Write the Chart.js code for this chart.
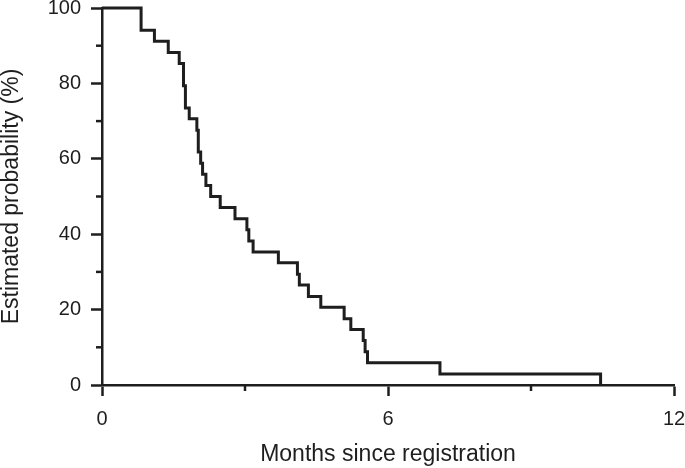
<!DOCTYPE html>
<html>
<head>
<meta charset="utf-8">
<script src="https://cdn.jsdelivr.net/npm/chart.js@4/dist/chart.umd.min.js"></script>
<style>
  html, body { margin: 0; padding: 0; background: #fff; }
  #wrap { width: 685px; height: 468px; position: relative; }
</style>
</head>
<body>
<div id="wrap"><canvas id="c" width="685" height="468"></canvas></div>
<script>
// Kaplan-Meier estimate: event times (months) and estimated probability (%)
const months = [0, 0.82, 1.10, 1.39, 1.62, 1.71, 1.75, 1.83, 1.99, 2.02, 2.07, 2.11, 2.18, 2.28, 2.48, 2.79, 3.04, 3.08, 3.17, 3.70, 4.10, 4.14, 4.33, 4.59, 5.08, 5.22, 5.48, 5.52, 5.57, 7.09, 10.46];
const probability = [100, 94.1, 91.2, 88.2, 85.3, 79.4, 73.5, 70.6, 67.6, 61.8, 58.8, 55.9, 52.9, 50.0, 47.1, 44.1, 41.2, 38.2, 35.3, 32.4, 29.4, 26.5, 23.5, 20.6, 17.6, 14.7, 11.8, 8.8, 5.9, 2.9, 0];
const xMajorTicks = [0, 6, 12];
const xMinorTicks = [3, 9];
const yMajorTicks = [0, 20, 40, 60, 80, 100];
const yMinorTicks = [10, 30, 50, 70, 90];
const xTitle = 'Months since registration';
const yTitle = 'Estimated probability (%)';

const INK = '#1e1e1e';
const FONT = '"Liberation Sans", Arial, Helvetica, sans-serif';

const minorTicks = {
  id: 'minorTicks',
  afterDraw(chart) {
    const ctx = chart.ctx;
    const xs = chart.scales.x, ys = chart.scales.y;
    const area = chart.chartArea;
    ctx.save();
    ctx.strokeStyle = INK;
    ctx.lineWidth = 2.5;
    ctx.lineCap = 'butt';
    yMinorTicks.forEach(v => {
      const py = ys.getPixelForValue(v);
      ctx.beginPath();
      ctx.moveTo(area.left - 6, py);
      ctx.lineTo(area.left, py);
      ctx.stroke();
    });
    xMinorTicks.forEach(v => {
      const px = xs.getPixelForValue(v);
      ctx.beginPath();
      ctx.moveTo(px, area.bottom);
      ctx.lineTo(px, area.bottom + 6);
      ctx.stroke();
    });
    ctx.restore();
  }
};

const points = months.map((m, i) => ({ x: m, y: probability[i] }));

new Chart(document.getElementById('c'), {
  type: 'line',
  data: {
    datasets: [{
      data: points,
      stepped: 'before',
      borderColor: INK,
      borderWidth: 3,
      pointRadius: 0,
      fill: false,
      clip: false,
      borderJoinStyle: 'miter',
      borderCapStyle: 'butt'
    }]
  },
  options: {
    responsive: false,
    animation: false,
    devicePixelRatio: 1,
    layout: { padding: 0 },
    plugins: { legend: { display: false }, tooltip: { enabled: false } },
    scales: {
      x: {
        type: 'linear',
        min: 0, max: 12,
        afterBuildTicks(scale) { scale.ticks = xMajorTicks.map(v => ({ value: v })); },
        afterFit(scale) { scale.height = 83; scale.paddingLeft = 0; scale.paddingRight = 11; },
        grid: { display: true, drawOnChartArea: false, drawTicks: true, tickLength: 11, tickWidth: 2.5, tickColor: INK },
        border: { display: true, color: INK, width: 2.5 },
        ticks: { color: INK, padding: 11, maxRotation: 0, font: { family: FONT, size: 20 } },
        title: { display: true, text: xTitle, color: INK, font: { family: FONT, size: 23, lineHeight: 1 }, padding: { top: 0, bottom: 2 } }
      },
      y: {
        type: 'linear',
        min: 0, max: 100,
        afterBuildTicks(scale) { scale.ticks = yMajorTicks.map(v => ({ value: v })); },
        afterFit(scale) { scale.width = 102; scale.paddingTop = 8; scale.paddingBottom = 0; },
        grid: { display: true, drawOnChartArea: false, drawTicks: true, tickLength: 11, tickWidth: 2.5, tickColor: INK },
        border: { display: true, color: INK, width: 2.5 },
        ticks: { color: INK, padding: 10, font: { family: FONT, size: 20 } },
        title: { display: true, text: yTitle, color: INK, font: { family: FONT, size: 23, lineHeight: 1 }, padding: { top: 0, bottom: 0 } }
      }
    }
  },
  plugins: [minorTicks]
});
</script>
</body>
</html>
